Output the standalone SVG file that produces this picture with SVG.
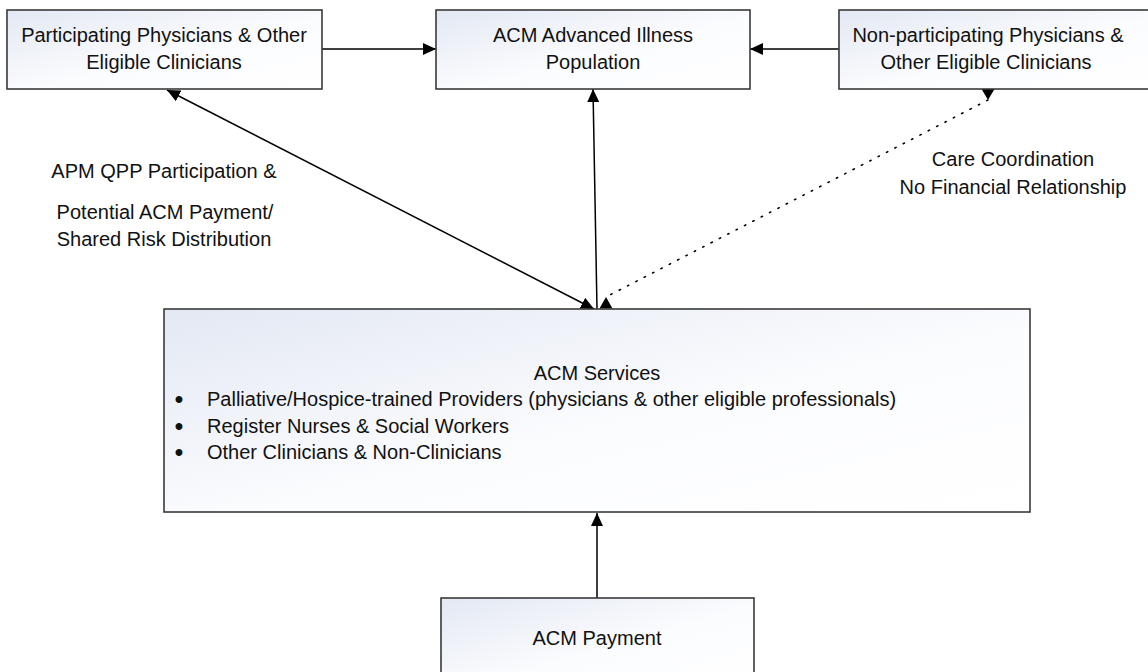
<svg xmlns="http://www.w3.org/2000/svg" width="1148" height="672" viewBox="0 0 1148 672">
<style>
.box{fill:url(#g);stroke:#3a3a3a;stroke-width:1.6}
.t{font-family:"Liberation Sans",Arial,sans-serif;font-size:20px;fill:#111;text-anchor:middle}
.l{font-family:"Liberation Sans",Arial,sans-serif;font-size:20px;fill:#111}
.b{font-family:"Liberation Sans",Arial,sans-serif;font-size:24px;font-weight:bold;fill:#111;text-anchor:middle}
.c{stroke:#000;stroke-width:1.5;fill:none}
.d{stroke:#000;stroke-width:1.6;fill:none;stroke-dasharray:1.4 8;stroke-linecap:round}
</style>
<defs>
<linearGradient id="g" x1="0" y1="0" x2="1" y2="1">
<stop offset="0" stop-color="#e3e8f3"/>
<stop offset="0.55" stop-color="#fbfcfe"/>
<stop offset="1" stop-color="#ffffff"/>
</linearGradient>
<marker id="a" markerUnits="userSpaceOnUse" markerWidth="13" markerHeight="12" viewBox="0 0 13 12" refX="13" refY="6" orient="auto-start-reverse">
<path d="M0,0 L13,6 L0,12 z" fill="#000"/>
</marker>
<marker id="tdown" markerUnits="userSpaceOnUse" markerWidth="13" markerHeight="12" viewBox="0 0 13 12" refX="6.5" refY="11" orient="0">
<path d="M0,0 L13,0 L6.5,11 z" fill="#000"/>
</marker>
<marker id="tup" markerUnits="userSpaceOnUse" markerWidth="13" markerHeight="13" viewBox="0 0 13 13" refX="6.5" refY="1" orient="0">
<path d="M6.5,1 L13,12.5 L0,12.5 z" fill="#000"/>
</marker>
</defs>

<g id="connectors">
<line class="c" x1="322" y1="49" x2="436" y2="49" marker-end="url(#a)"/>
<line class="c" x1="839" y1="49" x2="750" y2="49" marker-end="url(#a)"/>
<line class="c" x1="597" y1="309" x2="593" y2="89" marker-end="url(#a)"/>
<line class="c" x1="167" y1="90" x2="594" y2="309" marker-start="url(#a)" marker-end="url(#a)"/>
<line class="d" x1="988" y1="100" x2="606" y2="297" marker-start="url(#tdown)" marker-end="url(#tup)"/>
<line class="c" x1="597" y1="598" x2="597" y2="513" marker-end="url(#a)"/>
</g>

<g id="participating">
<rect class="box" x="7" y="10" width="315" height="79"/>
<text class="t" x="164" y="42">Participating Physicians &amp; Other</text>
<text class="t" x="164" y="69">Eligible Clinicians</text>
</g>

<g id="population">
<rect class="box" x="436" y="10" width="314" height="79"/>
<text class="t" x="593" y="42">ACM Advanced Illness</text>
<text class="t" x="593" y="69">Population</text>
</g>

<g id="nonparticipating">
<rect class="box" x="839" y="10" width="315" height="79"/>
<text class="t" x="988" y="42">Non-participating Physicians &amp;</text>
<text class="t" x="986" y="69">Other Eligible Clinicians</text>
</g>

<g id="label-left">
<text class="t" x="164" y="178">APM QPP Participation &amp;</text>
<text class="t" x="165" y="219">Potential ACM Payment/</text>
<text class="t" x="164" y="246">Shared Risk Distribution</text>
</g>

<g id="label-right">
<text class="t" x="1013" y="166">Care Coordination</text>
<text class="t" x="1013" y="194">No Financial Relationship</text>
</g>

<g id="services">
<rect class="box" x="164" y="309" width="866" height="203"/>
<text class="t" x="597" y="380">ACM Services</text>
<text class="b" x="179" y="407">•</text>
<text class="l" x="207" y="406">Palliative/Hospice-trained Providers (physicians &amp; other eligible professionals)</text>
<text class="b" x="179" y="434">•</text>
<text class="l" x="207" y="433">Register Nurses &amp; Social Workers</text>
<text class="b" x="179" y="460">•</text>
<text class="l" x="207" y="459">Other Clinicians &amp; Non-Clinicians</text>
</g>

<g id="payment">
<rect class="box" x="441" y="598" width="313" height="90"/>
<text class="t" x="597" y="645">ACM Payment</text>
</g>
</svg>
